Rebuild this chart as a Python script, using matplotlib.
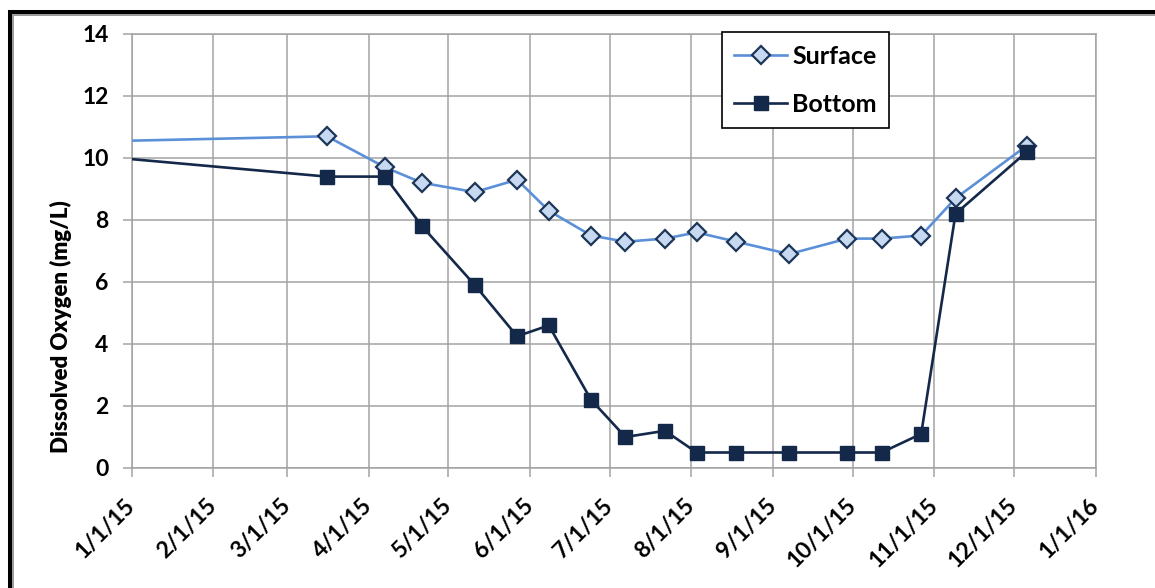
import numpy as np
import matplotlib
matplotlib.use("Agg")
import matplotlib.pyplot as plt
from matplotlib.patches import Rectangle

plt.rcParams['font.family'] = ['Lato', 'DejaVu Sans']
plt.rcParams['font.weight'] = 'bold'

# sampling dates; the first one (Dec 2014) sits left of the plotted range
dates = np.array(['2014-12-01', '2015-03-16', '2015-04-07', '2015-04-21',
                  '2015-05-11', '2015-05-27', '2015-06-08', '2015-06-24',
                  '2015-07-07', '2015-07-22', '2015-08-03', '2015-08-18',
                  '2015-09-07', '2015-09-29', '2015-10-12', '2015-10-27',
                  '2015-11-09', '2015-12-06'], dtype='datetime64[D]')
surface = np.array([10.5, 10.7, 9.7, 9.2, 8.9, 9.3, 8.3, 7.5, 7.3, 7.4,
                    7.6, 7.3, 6.9, 7.4, 7.4, 7.5, 8.7, 10.4])
bottom = np.array([10.2, 9.4, 9.4, 7.8, 5.9, 4.25, 4.6, 2.2, 1.0, 1.2,
                   0.5, 0.5, 0.5, 0.5, 0.5, 1.1, 8.2, 10.2])

tick_dates = np.array(['2015-01-01', '2015-02-01', '2015-03-01', '2015-04-01',
                       '2015-05-01', '2015-06-01', '2015-07-01', '2015-08-01',
                       '2015-09-01', '2015-10-01', '2015-11-01', '2015-12-01',
                       '2016-01-01'], dtype='datetime64[D]')
tick_labels = ['1/1/15', '2/1/15', '3/1/15', '4/1/15', '5/1/15', '6/1/15',
               '7/1/15', '8/1/15', '9/1/15', '10/1/15', '11/1/15', '12/1/15',
               '1/1/16']
y_ticks = [0, 2, 4, 6, 8, 10, 12, 14]

W, H = 1155, 588
fig = plt.figure(figsize=(W / 100, H / 100), dpi=100)
ax = fig.add_axes([131.5 / W, 1 - 468 / H, 964 / W, 434 / H])

grid_c = '#a3a3a3'
ax.plot(dates, surface, color='#5b90d8', lw=1.9, marker='D', ms=9.5,
        mfc='#c6d9f1', mec='#1c3557', mew=1.6, label='Surface', zorder=3)
ax.plot(dates, bottom, color='#14284a', lw=1.9, marker='s', ms=10,
        mfc='#14284a', mec='#14284a', mew=1, label='Bottom', zorder=3)

ax.set_xlim(tick_dates[0], tick_dates[-1])
ax.set_ylim(0, 14)
ax.set_xticks(tick_dates)
ax.set_xticklabels(tick_labels, rotation=45, ha='right', va='center',
                   rotation_mode='anchor')
ax.set_yticks(y_ticks)

ax.grid(True, color=grid_c, lw=1.1)
ax.set_axisbelow(True)
for s in ax.spines.values():
    s.set_color(grid_c)
    s.set_linewidth(1.1)
ax.tick_params(axis='both', direction='out', length=6.5, width=1.1,
               color=grid_c, labelsize=16.5, labelcolor='black')
ax.tick_params(axis='y', pad=10)
ax.tick_params(axis='x', pad=18)

fig.text(61 / W, 1 - 327 / H, 'Dissolved Oxygen (mg/L)', rotation=90,
         ha='center', va='center', fontsize=16, fontweight='heavy')

leg = ax.legend(loc='upper left', bbox_to_anchor=(722 / W, 1 - 32 / H),
                bbox_transform=fig.transFigure, borderaxespad=0,
                fontsize=18, frameon=True, fancybox=False, framealpha=1,
                edgecolor='black', handlelength=2.1, handletextpad=0.2,
                labelspacing=1.0, borderpad=0.5)
leg.get_frame().set_linewidth(1.2)

# chart border with a grey inner shadow line
fig.add_artist(Rectangle((10 / W, -0.5), 2, 0.5 + 1 - 11.5 / H,
                         transform=fig.transFigure, fill=False,
                         ec='black', lw=2.9, clip_on=False))
fig.add_artist(Rectangle((13 / W, -0.5), 2, 0.5 + 1 - 15 / H,
                         transform=fig.transFigure, fill=False,
                         ec='#9a9a9a', lw=1.4, clip_on=False))

fig.savefig('out.png', dpi=100)
